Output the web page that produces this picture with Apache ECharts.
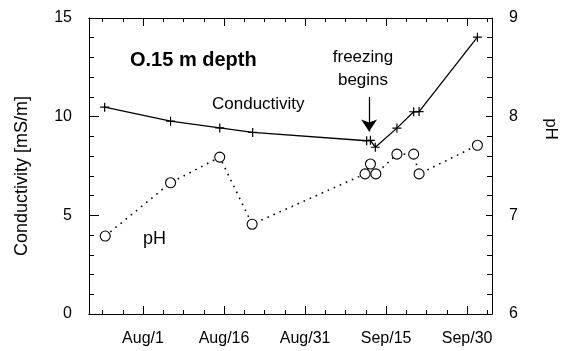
<!DOCTYPE html>
<html><head><meta charset="utf-8">
<script src="https://cdn.jsdelivr.net/npm/echarts@6/dist/echarts.min.js"></script>
<style>html,body{margin:0;padding:0;background:#fff}#c{width:562px;height:351px}</style>
</head><body><div id="c"></div>
<script>
// days counted from Aug 1
const condDays = [-7.1, 5.1, 14.2, 20.3, 41.4, 42.1, 43.0, 47.0, 50.1, 51.1, 61.9];
const cond     = [10.48, 9.77, 9.43, 9.2, 8.78, 8.8, 8.45, 9.42, 10.25, 10.26, 14.03];
const phDays   = [-7.0, 5.1, 14.2, 20.2, 41.1, 42.1, 43.1, 47.0, 50.1, 51.1, 61.9];
const ph       = [6.79, 7.33, 7.59, 6.91, 7.42, 7.52, 7.42, 7.62, 7.62, 7.42, 7.71];
const tickDays = [0, 15, 30, 45, 60];
const tickLabels = ['Aug/1', 'Aug/16', 'Aug/31', 'Sep/15', 'Sep/30'];
const minorDays = [-7.5, -3.75, 3.75, 7.5, 11.25, 18.75, 22.5, 26.25, 33.75, 37.5, 41.25, 48.75, 52.5, 56.25, 63.75];
const arrowDay = 41.85, arrowTop = 11.0, arrowTip = 9.25;

const FONT = 'Liberation Sans, Arial, sans-serif';
const black = '#000';
const X_MIN = -10, X_MAX = 64.6;

function xAx(pos, vals, len, labels) {
  return {
    type: 'value', position: pos, min: X_MIN, max: X_MAX,
    axisLine: {show: true, onZero: false, lineStyle: {color: black, width: 1}},
    axisTick: {show: true, inside: true, length: len, customValues: vals, lineStyle: {color: black}},
    axisLabel: labels ? {
      show: true, customValues: tickDays, margin: 17, color: black, fontSize: 16, fontFamily: FONT,
      formatter: v => { const i = tickDays.indexOf(v); return i >= 0 ? tickLabels[i] : ''; }
    } : {show: false},
    splitLine: {show: false}
  };
}

const chart = echarts.init(document.getElementById('c'));
chart.setOption({
  animation: false,
  backgroundColor: '#fff',
  grid: {left: 89, right: 70, top: 18, bottom: 37, containLabel: false},
  xAxis: [
    xAx('bottom', tickDays, 8, true),
    xAx('bottom', minorDays, 4, false),
    xAx('top', tickDays, 8, false),
    xAx('top', minorDays, 4, false)
  ],
  yAxis: [
    {
      type: 'value', position: 'left', min: 0, max: 15, interval: 5,
      axisLine: {show: true, onZero: false, lineStyle: {color: black}},
      axisTick: {show: true, inside: true, length: 10, lineStyle: {color: black}},
      minorTick: {show: true, splitNumber: 5, length: 5, lineStyle: {color: black}},
      axisLabel: {color: black, fontSize: 16, fontFamily: FONT, margin: 17},
      splitLine: {show: false}
    },
    {
      type: 'value', position: 'right', min: 6, max: 9, interval: 1,
      axisLine: {show: true, onZero: false, lineStyle: {color: black}},
      axisTick: {show: true, inside: true, length: 6, lineStyle: {color: black}},
      minorTick: {show: true, splitNumber: 5, length: 5, lineStyle: {color: black}},
      axisLabel: {color: black, fontSize: 16, fontFamily: FONT, margin: 17},
      splitLine: {show: false}
    }
  ],
  series: [
    {
      name: 'Conductivity', type: 'line', xAxisIndex: 0, yAxisIndex: 0,
      data: condDays.map((d, i) => [d, cond[i]]),
      symbol: 'path://M-5,0L5,0M0,-5L0,5', symbolSize: 9,
      itemStyle: {color: black, borderColor: black, borderWidth: 1.2},
      lineStyle: {color: black, width: 1.3},
      markLine: {
        silent: true, symbol: ['none', 'arrow'], symbolSize: 12,
        label: {show: false},
        itemStyle: {color: black},
        lineStyle: {color: black, width: 1.3, type: 'solid'},
        data: [[{coord: [arrowDay, arrowTop]}, {coord: [arrowDay, arrowTip]}]]
      }
    },
    {
      name: 'pH', type: 'line', xAxisIndex: 0, yAxisIndex: 1,
      data: phDays.map((d, i) => [d, ph[i]]),
      symbol: 'circle', symbolSize: 10,
      itemStyle: {color: '#fff', borderColor: black, borderWidth: 1.1},
      lineStyle: {color: black, width: 1.6, type: [1.6, 5]}
    }
  ],
  graphic: [
    {type: 'text', left: 130, top: 50, style: {text: 'O.15 m depth', font: 'bold 20px ' + FONT, fill: black}},
    {type: 'text', left: 212, top: 96, style: {text: 'Conductivity', font: '17px ' + FONT, fill: black}},
    {type: 'text', left: 143, top: 230, style: {text: 'pH', font: '18px ' + FONT, fill: black}},
    {type: 'text', x: 363, y: 57, style: {text: 'freezing', font: '17px ' + FONT, fill: black, align: 'center', verticalAlign: 'middle'}},
    {type: 'text', x: 363, y: 80, style: {text: 'begins', font: '17px ' + FONT, fill: black, align: 'center', verticalAlign: 'middle'}},
    {type: 'text', x: 22, y: 176, rotation: Math.PI / 2, style: {text: 'Conductivity [mS/m]', font: '18px ' + FONT, fill: black, align: 'center', verticalAlign: 'middle'}},
    {type: 'text', x: 551, y: 129, rotation: -Math.PI / 2, style: {text: 'pH', font: '17px ' + FONT, fill: black, align: 'center', verticalAlign: 'middle'}}
  ]
});
</script>
</body></html>
